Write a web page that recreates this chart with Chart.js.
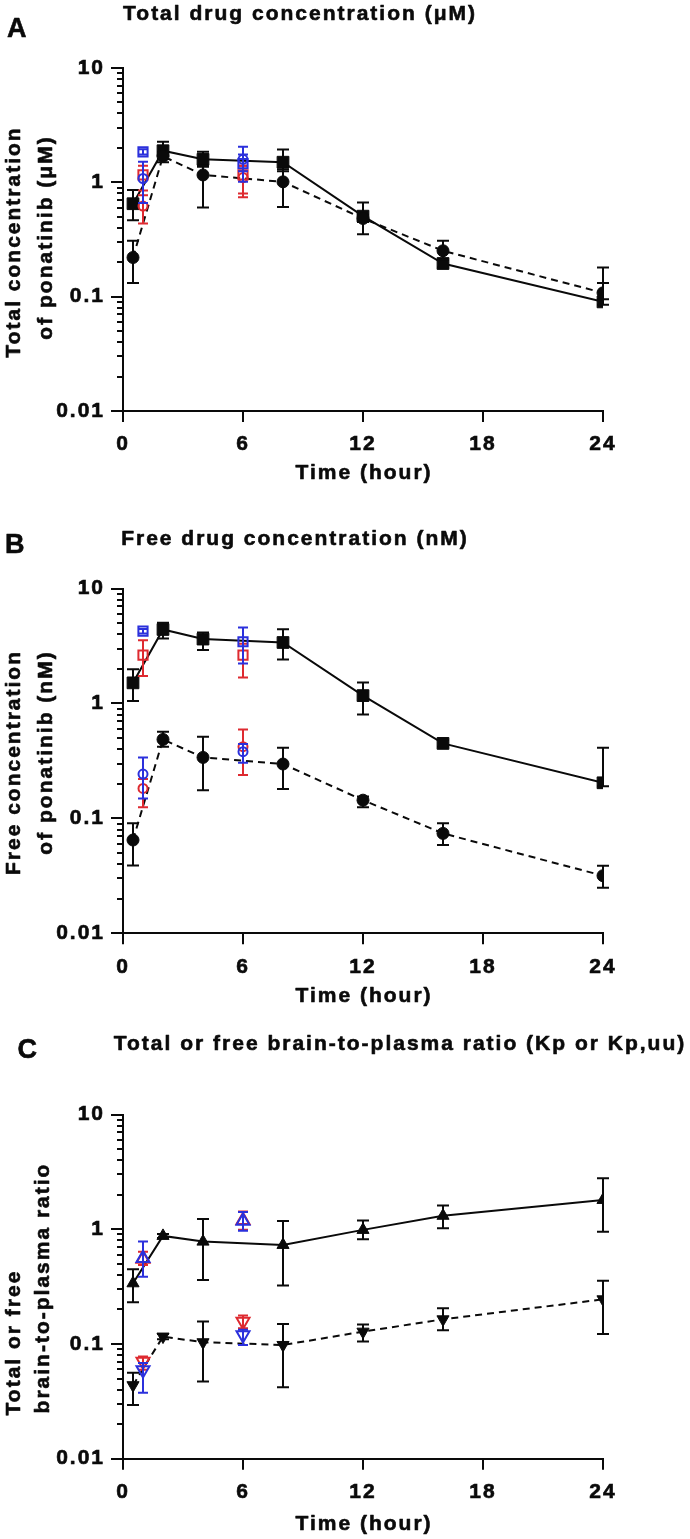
<!DOCTYPE html>
<html>
<head>
<meta charset="utf-8">
<script src="https://cdn.jsdelivr.net/npm/chart.js@4.4.1/dist/chart.umd.min.js"></script>
<style>
  html, body { margin: 0; padding: 0; background: #fff; }
  #wrap { position: relative; width: 690px; height: 1539px; }
  canvas { position: absolute; left: 0; }
</style>
</head>
<body>
<div id="wrap">
  <canvas id="panelA" width="690" height="500" style="top:0px"></canvas>
  <canvas id="panelB" width="690" height="520" style="top:500px"></canvas>
  <canvas id="panelC" width="690" height="519" style="top:1020px"></canvas>
</div>
<script>
const FONT = "'Liberation Sans', Arial, Helvetica, sans-serif";
const INK = '#0a0a0a';
const RED = '#de2a30';
const BLUE = '#2b30dc';

// sampling times (hour)
const timeMain = [0.5, 2, 4, 8, 12, 16, 24];
const timeExtra = [1, 6];
const xTickValues = [0, 6, 12, 18, 24];
const yTickLabels = ['0.01', '0.1', '1', '10'];

// A: total concentration (uM)
const totalSquare   = [0.65, 1.89, 1.59, 1.50, 0.506, 0.195, 0.090];
const totalSquareLo = [0.467, 1.60, 1.37, 1.25, 0.352, 0.180, 0.085];
const totalSquareHi = [0.855, 2.26, 1.85, 1.94, 0.667, 0.210, 0.132];
const totalCircle   = [0.22, 1.69, 1.16, 1.01, 0.483, 0.252, 0.108];
const totalCircleLo = [0.132, 1.50, 0.603, 0.61, 0.45, 0.21, 0.095];
const totalCircleHi = [0.308, 1.85, 1.40, 1.30, 0.52, 0.308, 0.18];
const totalRedSq    = [1.16, 1.16];
const totalRedSqLo  = [0.77, 0.80];
const totalRedSqHi  = [1.40, 1.40];
const totalRedCi    = [0.62, 1.10];
const totalRedCiLo  = [0.437, 0.74];
const totalRedCiHi  = [0.85, 1.40];
const totalBlueSq   = [1.85, 1.46];
const totalBlueSqLo = [1.75, 1.25];
const totalBlueSqHi = [1.95, 1.75];
const totalBlueCi   = [1.08, 1.59];
const totalBlueCiLo = [0.66, 1.01];
const totalBlueCiHi = [1.51, 2.05];

// B: free concentration (nM)
const freeSquare   = [1.51, 4.40, 3.63, 3.39, 1.17, 0.449, 0.204];
const freeSquareLo = [1.05, 3.67, 2.91, 2.41, 0.80, 0.42, 0.19];
const freeSquareHi = [1.98, 5.03, 4.14, 4.43, 1.52, 0.48, 0.411];
const freeCircle   = [0.0648, 0.486, 0.339, 0.297, 0.144, 0.074, 0.0317];
const freeCircleLo = [0.0388, 0.42, 0.176, 0.18, 0.125, 0.0586, 0.0249];
const freeCircleHi = [0.0905, 0.567, 0.513, 0.412, 0.155, 0.0905, 0.0387];
const freeRedSq    = [2.63, 2.63];
const freeRedSqLo  = [1.73, 1.68];
const freeRedSqHi  = [3.55, 3.30];
const freeRedCi    = [0.182, 0.42];
const freeRedCiLo  = [0.125, 0.238];
const freeRedCiHi  = [0.22, 0.594];
const freeBlueSq   = [4.26, 3.44];
const freeBlueSqLo = [4.05, 2.23];
const freeBlueSqHi = [4.45, 4.58];
const freeBlueCi   = [0.243, 0.38];
const freeBlueCiLo = [0.149, 0.305];
const freeBlueCiHi = [0.339, 0.443];

// C: brain-to-plasma ratio
const kpUp       = [0.338, 0.875, 0.78, 0.73, 0.987, 1.31, 1.80];
const kpUpLo     = [0.231, 0.84, 0.361, 0.323, 0.818, 1.02, 0.953];
const kpUpHi     = [0.448, 0.91, 1.23, 1.18, 1.19, 1.61, 2.78];
const kpuuDown   = [0.0437, 0.116, 0.1035, 0.098, 0.128, 0.164, 0.245];
const kpuuDownLo = [0.0294, 0.110, 0.047, 0.0419, 0.105, 0.132, 0.122];
const kpuuDownHi = [0.0562, 0.122, 0.157, 0.149, 0.148, 0.205, 0.356];
const kpRedUp    = [0.55, 1.20];
const kpRedUpLo  = [0.489, 0.99];
const kpRedUpHi  = [0.638, 1.43];
const kpBlueUp   = [0.559, 1.18];
const kpBlueUpLo = [0.386, 0.97];
const kpBlueUpHi = [0.78, 1.41];
const kpRedDn    = [0.0702, 0.157];
const kpRedDnLo  = [0.0595, 0.137];
const kpRedDnHi  = [0.0776, 0.177];
const kpBlueDn   = [0.0593, 0.120];
const kpBlueDnLo = [0.0376, 0.098];
const kpBlueDnHi = [0.0683, 0.133];

// log-axis tick positions 0.01 .. 10
const yTickValues = [];
for (let e = -2; e <= 0; e++) {
  for (let k = 1; k <= 9; k++) yTickValues.push(+(k * Math.pow(10, e)).toPrecision(3));
}
yTickValues.push(10);

const isDecade = (v) => Math.abs(Math.log10(v) - Math.round(Math.log10(v))) < 1e-9;

function series(xs, ys, lo, hi, o) {
  return {
    data: xs.map((x, i) => ({ x: x, y: ys[i] })),
    errLo: lo,
    errHi: hi,
    capHalf: o.open ? 5 : 6,
    showLine: !!o.line,
    borderColor: o.color,
    borderWidth: 2,
    borderDash: o.line === 'dash' ? [7, 5] : [],
    pointStyle: o.style,
    pointRotation: o.rot || 0,
    pointRadius: o.r,
    pointHoverRadius: o.r,
    pointBorderWidth: o.open ? 2 : 1,
    pointBorderColor: o.color,
    pointBackgroundColor: o.open ? 'rgba(0,0,0,0)' : o.color,
    tension: 0,
  };
}

// error bars, drawn just before each dataset
const errorBars = {
  id: 'errorBars',
  beforeDatasetDraw(chart, args) {
    const ds = chart.data.datasets[args.index];
    if (!ds.errLo) return;
    const { ctx, scales: { x, y } } = chart;
    ctx.save();
    ctx.strokeStyle = ds.borderColor;
    ctx.lineWidth = 2;
    ctx.setLineDash([]);
    ctx.beginPath();
    ds.data.forEach((p, i) => {
      const px = x.getPixelForValue(p.x);
      const yl = y.getPixelForValue(ds.errLo[i]);
      const yh = y.getPixelForValue(ds.errHi[i]);
      const c = ds.capHalf;
      ctx.moveTo(px, yl); ctx.lineTo(px, yh);
      ctx.moveTo(px - c, yl); ctx.lineTo(px + c, yl);
      ctx.moveTo(px - c, yh); ctx.lineTo(px + c, yh);
    });
    ctx.stroke();
    ctx.restore();
  }
};

function centerText(ctx, text, x, y) {
  const w = ctx.measureText(text).width;
  ctx.textAlign = 'left';
  ctx.strokeText(text, x - w / 2 + 1, y);
  ctx.fillText(text, x - w / 2 + 1, y);
}

// tick marks, titles, panel letter
const frame = {
  id: 'frame',
  beforeDraw(chart) {
    chart.ctx.letterSpacing = '2px';
  },
  afterDraw(chart, args, o) {
    const { ctx, chartArea: a, scales: { x, y } } = chart;
    ctx.save();
    ctx.strokeStyle = INK;
    ctx.lineWidth = 2;
    ctx.beginPath();
    y.ticks.forEach(t => {
      const py = Math.round(y.getPixelForValue(t.value));
      const len = isDecade(t.value) ? 12 : 6;
      ctx.moveTo(a.left - len, py); ctx.lineTo(a.left, py);
    });
    x.ticks.forEach(t => {
      const px = Math.round(x.getPixelForValue(t.value));
      ctx.moveTo(px, a.bottom); ctx.lineTo(px, a.bottom + 11);
    });
    ctx.stroke();

    ctx.fillStyle = INK;
    ctx.lineWidth = 0.6;
    ctx.lineJoin = 'round';
    ctx.textBaseline = 'alphabetic';
    ctx.letterSpacing = '2px';
    ctx.font = `bold 21px ${FONT}`;
    centerText(ctx, o.title, o.titleX, o.titleY);
    centerText(ctx, 'Time (hour)', (a.left + a.right) / 2, o.xTitleY);
    o.yTitle.forEach(line => {
      ctx.save();
      ctx.translate(line.x, line.y);
      ctx.rotate(-Math.PI / 2);
      centerText(ctx, line.text, 0, 0);
      ctx.restore();
    });
    ctx.letterSpacing = '0px';
    ctx.font = `bold 27px ${FONT}`;
    ctx.textAlign = 'left';
    ctx.strokeText(o.letter, o.letterX, o.letterY);
    ctx.fillText(o.letter, o.letterX, o.letterY);
    ctx.restore();
  }
};

const panels = [
  {
    id: 'panelA', h: 500, top: 68, bottom: 411,
    letter: 'A', letterX: 7, letterY: 37,
    title: 'Total drug concentration (μM)', titleX: 299, titleY: 20, xTitleY: 479,
    yTitle: [
      { text: 'Total concentration', x: 20, y: 243 },
      { text: 'of ponatinib (μM)', x: 51.5, y: 238.5 },
    ],
    datasets: [
      series(timeExtra, totalBlueCi, totalBlueCiLo, totalBlueCiHi, { color: BLUE, style: 'circle', r: 4.5, open: true }),
      series(timeExtra, totalBlueSq, totalBlueSqLo, totalBlueSqHi, { color: BLUE, style: 'rect', r: 6.5, open: true }),
      series(timeExtra, totalRedCi, totalRedCiLo, totalRedCiHi, { color: RED, style: 'circle', r: 4.5, open: true }),
      series(timeExtra, totalRedSq, totalRedSqLo, totalRedSqHi, { color: RED, style: 'rect', r: 6.5, open: true }),
      series(timeMain, totalCircle, totalCircleLo, totalCircleHi, { color: INK, style: 'circle', r: 6, line: 'dash' }),
      series(timeMain, totalSquare, totalSquareLo, totalSquareHi, { color: INK, style: 'rect', r: 8.3, line: 'solid' }),
    ]
  },
  {
    id: 'panelB', h: 520, top: 88.5, bottom: 433.3,
    letter: 'B', letterX: 5, letterY: 53,
    title: 'Free drug concentration (nM)', titleX: 294, titleY: 45, xTitleY: 502,
    yTitle: [
      { text: 'Free concentration', x: 20, y: 263.5 },
      { text: 'of ponatinib (nM)', x: 51.5, y: 253.5 },
    ],
    datasets: [
      series(timeExtra, freeBlueCi, freeBlueCiLo, freeBlueCiHi, { color: BLUE, style: 'circle', r: 4.5, open: true }),
      series(timeExtra, freeBlueSq, freeBlueSqLo, freeBlueSqHi, { color: BLUE, style: 'rect', r: 6.5, open: true }),
      series(timeExtra, freeRedCi, freeRedCiLo, freeRedCiHi, { color: RED, style: 'circle', r: 4.5, open: true }),
      series(timeExtra, freeRedSq, freeRedSqLo, freeRedSqHi, { color: RED, style: 'rect', r: 6.5, open: true }),
      series(timeMain, freeCircle, freeCircleLo, freeCircleHi, { color: INK, style: 'circle', r: 6, line: 'dash' }),
      series(timeMain, freeSquare, freeSquareLo, freeSquareHi, { color: INK, style: 'rect', r: 8.3, line: 'solid' }),
    ]
  },
  {
    id: 'panelC', h: 519, top: 94.5, bottom: 438.7,
    letter: 'C', letterX: 17.5, letterY: 37.5,
    title: 'Total or free brain-to-plasma ratio (Kp or Kp,uu)', titleX: 399, titleY: 29.5, xTitleY: 509.5,
    yTitle: [
      { text: 'Total or free', x: 20, y: 323.5 },
      { text: 'brain-to-plasma ratio', x: 48.5, y: 269 },
    ],
    datasets: [
      series(timeExtra, kpBlueUp, kpBlueUpLo, kpBlueUpHi, { color: BLUE, style: 'triangle', r: 7.5, open: true }),
      series(timeExtra, kpBlueDn, kpBlueDnLo, kpBlueDnHi, { color: BLUE, style: 'triangle', rot: 180, r: 7.5, open: true }),
      series(timeExtra, kpRedUp, kpRedUpLo, kpRedUpHi, { color: RED, style: 'triangle', r: 7.5, open: true }),
      series(timeExtra, kpRedDn, kpRedDnLo, kpRedDnHi, { color: RED, style: 'triangle', rot: 180, r: 7.5, open: true }),
      series(timeMain, kpuuDown, kpuuDownLo, kpuuDownHi, { color: INK, style: 'triangle', rot: 180, r: 7, line: 'dash' }),
      series(timeMain, kpUp, kpUpLo, kpUpHi, { color: INK, style: 'triangle', r: 7, line: 'solid' }),
    ]
  },
];

panels.forEach(p => {
  new Chart(document.getElementById(p.id), {
    type: 'scatter',
    data: { datasets: p.datasets },
    options: {
      responsive: false,
      animation: false,
      events: [],
      layout: { padding: { top: p.top, right: 87, bottom: 0, left: 0 } },
      plugins: {
        legend: { display: false },
        tooltip: { enabled: false },
        frame: p,
      },
      scales: {
        x: {
          type: 'linear',
          min: 0,
          max: 24,
          afterBuildTicks: (s) => { s.ticks = xTickValues.map(v => ({ value: v })); },
          afterFit: (s) => { s.height = p.h - p.bottom; },
          grid: { display: false, drawTicks: false },
          border: { display: true, color: INK, width: 2 },
          ticks: {
            color: INK,
            textStrokeColor: INK,
            textStrokeWidth: 0.6,
            padding: 21,
            maxRotation: 0,
            autoSkip: false,
            font: { family: FONT, size: 21, weight: 'bold' },
          },
        },
        y: {
          type: 'logarithmic',
          min: 0.01,
          max: 10,
          afterBuildTicks: (s) => { s.ticks = yTickValues.map(v => ({ value: v })); },
          afterFit: (s) => { s.width = 123; },
          grid: { display: false, drawTicks: false },
          border: { display: true, color: INK, width: 2 },
          ticks: {
            color: INK,
            textStrokeColor: INK,
            textStrokeWidth: 0.6,
            padding: 18,
            autoSkip: false,
            font: { family: FONT, size: 21, weight: 'bold' },
            callback: (v) => isDecade(v) ? yTickLabels[Math.round(Math.log10(v)) + 2] : '',
          },
        },
      },
    },
    plugins: [errorBars, frame],
  });
});
</script>
</body>
</html>
